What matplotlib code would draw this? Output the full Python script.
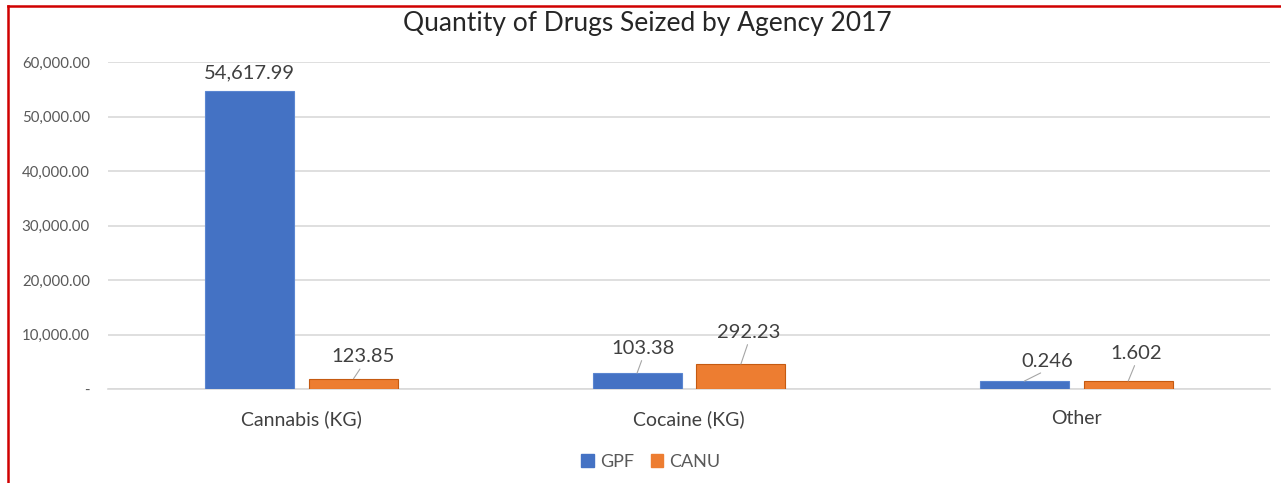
import matplotlib.pyplot as plt
import numpy as np
from matplotlib.lines import Line2D
from matplotlib.patches import Patch
from matplotlib.ticker import FuncFormatter

# data
categories = ['Cannabis (KG)', 'Cocaine (KG)', 'Other']
agencies = ['GPF', 'CANU']
# bar heights as drawn in the picture
gpf_height = [54600, 2930, 1460]
canu_height = [1900, 4580, 1460]
# data label texts shown on the bars
gpf_labels = ['54,617.99', '103.38', '0.246']
canu_labels = ['123.85', '292.23', '1.602']
yticks = [0, 10000, 20000, 30000, 40000, 50000, 60000]

plt.rcParams['font.family'] = ['Lato', 'DejaVu Sans']

BLUE = '#4472C4'
ORANGE = '#ED7D31'
GRID = '#d9d9d9'
TXT = '#595959'

fig = plt.figure(figsize=(12.81, 4.83), dpi=100)
ax = fig.add_axes([108/1281, 1 - 389/483, (1270 - 108)/1281, (389 - 62)/483])

x = np.arange(len(categories))
off = 0.134
w = 0.23
b1 = ax.bar(x - off, gpf_height, w, color=BLUE, edgecolor='#5b86d1', linewidth=0.8, zorder=3)
b2 = ax.bar(x + off, canu_height, w, color=ORANGE, edgecolor='#c55a11', linewidth=0.8, zorder=3)

ax.set_xlim(-0.5, 2.5)
ax.set_ylim(0, 60000)
ax.set_yticks(yticks)
ax.yaxis.set_major_formatter(FuncFormatter(lambda v, p: '-' if v == 0 else f'{v:,.2f}'))
ax.set_xticks(x)
ax.set_xticklabels(categories)
ax.tick_params(axis='y', length=0, pad=13, labelsize=10.8, labelcolor=TXT)
ax.tick_params(axis='x', length=0, pad=15, labelsize=14, labelcolor='#404040')
ax.grid(axis='y', color=GRID, linewidth=1.2, zorder=0)
for s in ['top', 'right', 'left']:
    ax.spines[s].set_visible(False)
ax.spines['bottom'].set_color(GRID)
ax.spines['bottom'].set_linewidth(1.2)

# label offsets in pixels from the bar top (dx, dy), leader shown or not
gpf_off = [(0, 19), (6, 25), (23, 20)]
canu_off = [(9, 22), (8, 32), (8, 28)]
gpf_leader = [False, True, True]
canu_leader = [True, True, True]

def label_bars(bars, labels, offs, leaders):
    for bar, lab, (dx, dy), ld in zip(bars, labels, offs, leaders):
        xc = bar.get_x() + bar.get_width()/2
        h = bar.get_height()
        ap = None
        if ld:
            ap = dict(arrowstyle='-', color='#a6a6a6', lw=0.8, shrinkA=1, shrinkB=0,
                      relpos=(0.5, 0))
        ax.annotate(lab, xy=(xc, h), xytext=(dx, dy), textcoords='offset pixels',
                    ha='center', va='center', fontsize=14.5, color='#404040',
                    arrowprops=ap, zorder=4)

label_bars(b1, gpf_labels, gpf_off, gpf_leader)
label_bars(b2, canu_labels, canu_off, canu_leader)

fig.text(647/1281, 1 - 23/483, 'Quantity of Drugs Seized by Agency 2017',
         ha='center', va='center', fontsize=19, color='#262626')

handles = [Patch(color=BLUE), Patch(color=ORANGE)]
fig.legend(handles, agencies, loc='center', bbox_to_anchor=(651/1281, 1 - 462/483),
           ncol=2, frameon=False, handlelength=0.7, handleheight=0.7,
           handletextpad=0.35, columnspacing=0.9, fontsize=13, labelcolor=TXT)

# red frame of the screenshot
fig.add_artist(Line2D([8/1281, 1], [1 - 6/483, 1 - 6/483], color='#d00000', lw=1.8))
fig.add_artist(Line2D([8/1281, 8/1281], [0, 1 - 6/483], color='#d00000', lw=1.8))

fig.savefig('out.png', dpi=100)
